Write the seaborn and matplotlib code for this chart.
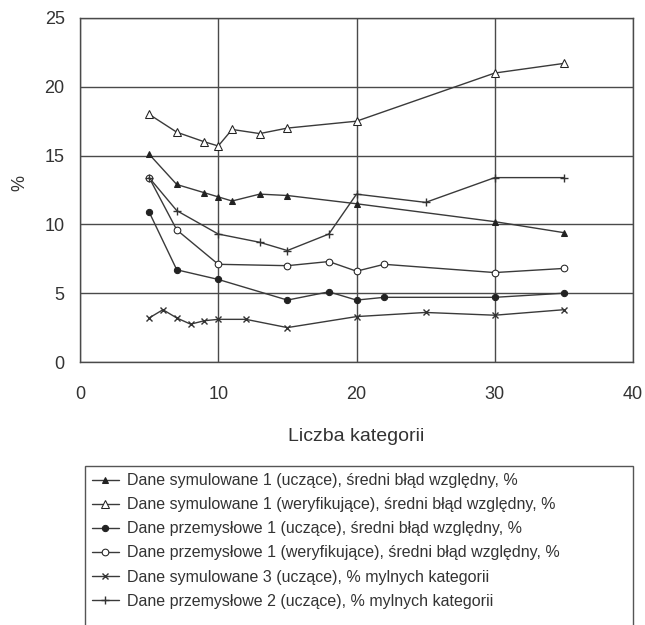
import matplotlib
matplotlib.use("Agg")
import matplotlib.pyplot as plt
from matplotlib.patches import Rectangle
import seaborn as sns
import pandas as pd

# ---- data ----
x_sym1 = [5, 7, 9, 10, 11, 13, 15, 20, 30, 35]
y_sym1_ucz = [15.1, 12.9, 12.3, 12.0, 11.7, 12.2, 12.1, 11.5, 10.2, 9.4]
y_sym1_wer = [18.0, 16.7, 16.0, 15.7, 16.9, 16.6, 17.0, 17.5, 21.0, 21.7]

x_prz1 = [5, 7, 10, 15, 18, 20, 22, 30, 35]
y_prz1_ucz = [10.9, 6.7, 6.0, 4.5, 5.1, 4.5, 4.7, 4.7, 5.0]
y_prz1_wer = [13.4, 9.6, 7.1, 7.0, 7.3, 6.6, 7.1, 6.5, 6.8]

x_sym3 = [5, 6, 7, 8, 9, 10, 12, 15, 20, 25, 30, 35]
y_sym3 = [3.2, 3.8, 3.2, 2.75, 3.0, 3.1, 3.1, 2.5, 3.3, 3.6, 3.4, 3.8]

x_prz2 = [5, 7, 10, 13, 15, 18, 20, 25, 30, 35]
y_prz2 = [13.4, 11.0, 9.3, 8.7, 8.1, 9.3, 12.2, 11.6, 13.4, 13.4]

labels = [
    "Dane symulowane 1 (uczące), średni błąd względny, %",
    "Dane symulowane 1 (weryfikujące), średni błąd względny, %",
    "Dane przemysłowe 1 (uczące), średni błąd względny, %",
    "Dane przemysłowe 1 (weryfikujące), średni błąd względny, %",
    "Dane symulowane 3 (uczące), % mylnych kategorii",
    "Dane przemysłowe 2 (uczące), % mylnych kategorii",
]
x_ticks = [0, 10, 20, 30, 40]
y_ticks = [0, 5, 10, 15, 20, 25]
x_label = "Liczba kategorii"
y_label = "%"

series = [
    (x_sym1, y_sym1_ucz),
    (x_sym1, y_sym1_wer),
    (x_prz1, y_prz1_ucz),
    (x_prz1, y_prz1_wer),
    (x_sym3, y_sym3),
    (x_prz2, y_prz2),
]

sns.set_style("white")
plt.rcParams["font.family"] = ["Liberation Sans", "DejaVu Sans"]

line_col = "#3a3a3a"
grid_col = "#4a4a4a"
styles = [
    dict(marker="^", markersize=8, markerfacecolor="#222222", markeredgecolor="#222222"),
    dict(marker="^", markersize=9, markerfacecolor="white", markeredgecolor="#222222"),
    dict(marker="o", markersize=7.5, markerfacecolor="#222222", markeredgecolor="#222222"),
    dict(marker="o", markersize=8, markerfacecolor="white", markeredgecolor="#222222"),
    dict(marker="x", markersize=7.5, markeredgecolor="#333333", markeredgewidth=1.0),
    dict(marker="+", markersize=9, markeredgecolor="#333333", markeredgewidth=1.0),
]

fig = plt.figure(figsize=(6.45, 6.25), dpi=100)
ax = fig.add_axes([80 / 645, 1 - 362 / 625, (633 - 80) / 645, (362 - 18) / 625])

for (xs, ys), lab, st in zip(series, labels, styles):
    df = pd.DataFrame({"x": xs, "y": ys})
    sns.lineplot(data=df, x="x", y="y", ax=ax, color=line_col, linewidth=1.0,
                 label=lab, sort=False, **st)

ax.set_xlim(0, 40)
ax.set_ylim(0, 25)
ax.set_xticks(x_ticks)
ax.set_yticks(y_ticks)
ax.grid(True, color=grid_col, linewidth=1.0)
ax.set_axisbelow(True)
for sp in ax.spines.values():
    sp.set_visible(True)
    sp.set_color(grid_col)
    sp.set_linewidth(1.0)
ax.tick_params(axis="both", length=2, width=0.8, color="#888888",
               labelsize=13, labelcolor="#333333")
ax.tick_params(axis="x", pad=15)
ax.tick_params(axis="y", pad=9)
ax.set_xlabel(x_label, fontsize=14, color="#333333", labelpad=18)
ax.set_ylabel(y_label, fontsize=13, color="#333333")
ax.yaxis.set_label_coords(-0.093, 0.52)

handles, labs = ax.get_legend_handles_labels()
if ax.get_legend():
    ax.get_legend().remove()
for h in handles:
    h.set_markersize(h.get_markersize() * 0.6)
leg = fig.legend(handles, labs, loc="upper left",
                 bbox_to_anchor=(85 / 645, 1 - 466 / 625, (633 - 85) / 645, 0.0),
                 mode="expand", fontsize=11.5, frameon=False,
                 handlelength=1.65, handletextpad=0.55, labelspacing=0.57,
                 borderpad=0.45, borderaxespad=0.0)
for t in leg.get_texts():
    t.set_color("#333333")

# legend frame running past the bottom edge of the figure, as in the reference
fig.patches.append(Rectangle((85 / 645, -0.05), (633 - 85) / 645, 0.05 + 1 - 466 / 625,
                             transform=fig.transFigure, fill=False,
                             edgecolor="#555555", linewidth=1.0))

fig.savefig("out.png", dpi=100)
